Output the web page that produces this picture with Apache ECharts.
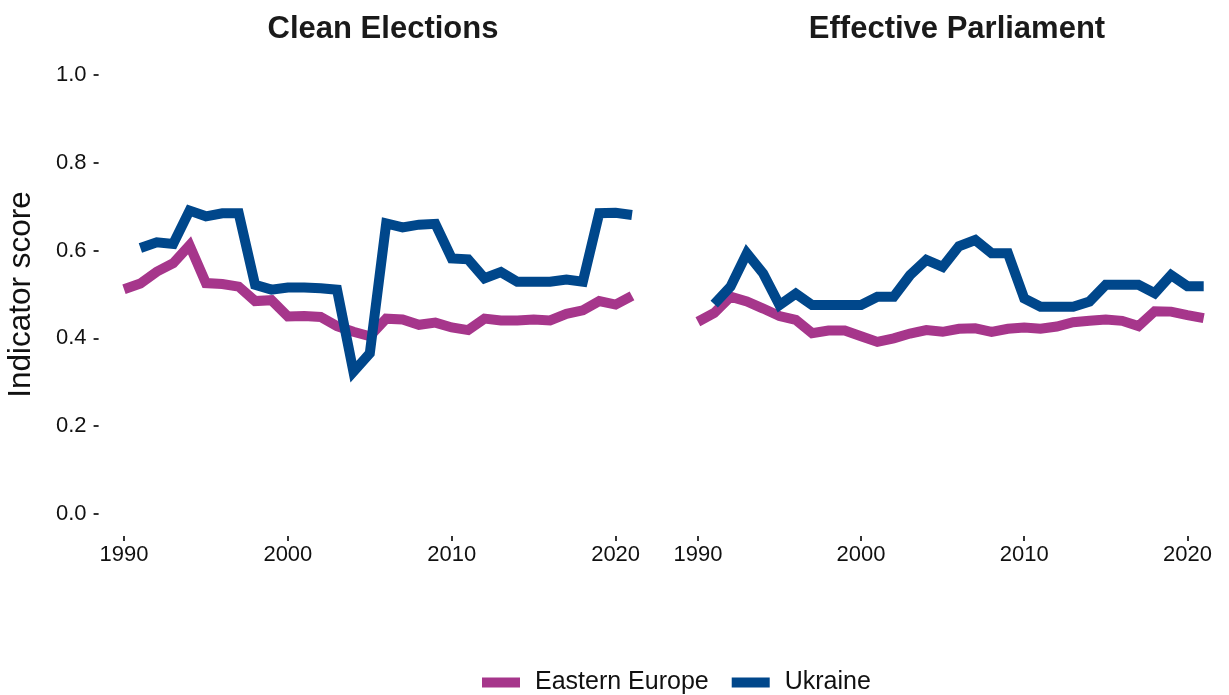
<!DOCTYPE html>
<html>
<head>
<meta charset="utf-8">
<script src="https://cdn.jsdelivr.net/npm/echarts@6/dist/echarts.min.js"></script>
<style>
html,body{margin:0;padding:0;background:#fff;}
#chart{width:1229px;height:695px;}
</style>
</head>
<body>
<div id="chart"></div>
<script>
const years = [1990,1991,1992,1993,1994,1995,1996,1997,1998,1999,2000,2001,2002,2003,2004,2005,2006,2007,2008,2009,2010,2011,2012,2013,2014,2015,2016,2017,2018,2019,2020,2021];
const panelTitles = ["Clean Elections", "Effective Parliament"];
const seriesNames = ["Eastern Europe", "Ukraine"];
const yTicks = [0, 0.2, 0.4, 0.6, 0.8, 1.0];
const xTicks = [1990, 2000, 2010, 2020];

// Clean Elections
const cleanEE = [0.512,0.525,0.552,0.571,0.612,0.526,0.524,0.518,0.485,0.487,0.450,0.451,0.449,0.428,0.415,0.405,0.445,0.443,0.431,0.436,0.425,0.419,0.445,0.441,0.441,0.443,0.441,0.456,0.464,0.485,0.477,0.497];
const cleanUA = [null,0.606,0.619,0.615,0.691,0.678,0.685,0.685,0.522,0.511,0.516,0.516,0.514,0.511,0.324,0.366,0.662,0.653,0.659,0.661,0.582,0.580,0.537,0.551,0.529,0.529,0.529,0.534,0.529,0.685,0.686,0.681];
// Effective Parliament
const parlEE = [0.438,0.458,0.495,0.484,0.468,0.451,0.442,0.412,0.418,0.418,0.405,0.392,0.400,0.411,0.419,0.415,0.422,0.423,0.415,0.422,0.425,0.422,0.427,0.437,0.440,0.443,0.440,0.428,0.462,0.461,0.453,0.446];
const parlUA = [null,0.478,0.518,0.594,0.548,0.476,0.502,0.476,0.476,0.476,0.476,0.495,0.495,0.544,0.579,0.563,0.610,0.624,0.594,0.594,0.491,0.472,0.472,0.472,0.484,0.522,0.522,0.522,0.503,0.544,0.519,0.519];

const colors = ["#A6368B", "#00478B"];
const font = "Liberation Sans, Arial, sans-serif";

function pairs(arr){ return years.map((y,i)=>[y, arr[i]]); }

const chart = echarts.init(document.getElementById('chart'), null, {renderer:'canvas'});

const grids = [
  {left: 98.6, top: 53, width: 558.8, height: 483},
  {left: 672.6, top: 53, width: 558.8, height: 483}
];

function xAxis(idx){
  return {
    type:'value', gridIndex: idx, min: 1988.45, max: 2022.55,
    splitLine:{show:false}, axisLine:{show:false, onZero:false},
    axisTick:{show:true, length:5, lineStyle:{color:'#333', width:2}, customValues: xTicks},
    axisLabel:{show:true, fontFamily:font, fontSize:22, color:'#111', margin:8, customValues: xTicks, formatter: v => String(v)},
  };
}
function yAxis(idx){
  return {
    type:'value', gridIndex: idx, min: -0.05, max: 1.05,
    splitLine:{show:false}, axisLine:{show:false, onZero:false},
    axisTick:{show: idx===0, length:5, lineStyle:{color:'#333', width:2}, customValues: yTicks},
    axisLabel:{show: idx===0, fontFamily:font, fontSize:22, color:'#111', margin:12, customValues: yTicks, formatter: v => v.toFixed(1)},
    name: idx===0 ? 'Indicator score' : '',
    nameLocation:'middle', nameGap: 61, nameRotate: 90,
    nameTextStyle:{fontFamily:font, fontSize:31.5, color:'#111'}
  };
}

function lineSeries(name, data, xi, color){
  return {
    name, type:'line', xAxisIndex:xi, yAxisIndex:xi, data: pairs(data),
    showSymbol:false, symbol:'none', connectNulls:false,
    lineStyle:{color, width:10, cap:'butt', join:'miter'},
    itemStyle:{color}, animation:false, silent:true
  };
}

chart.setOption({
  animation:false,
  grid: grids,
  title: panelTitles.map((t,i)=>({
    text: t, left: grids[i].left + grids[i].width/2, top: 9, textAlign:'center',
    textStyle:{fontFamily:font, fontSize:31, fontWeight:'bold', color:'#1a1a1a'}
  })),
  xAxis: [xAxis(0), xAxis(1)],
  yAxis: [yAxis(0), yAxis(1)],
  legend: {
    top: 665, left: 477, itemWidth:38, itemHeight:10, itemGap:23,
    icon:'rect',
    textStyle:{fontFamily:font, fontSize:25, color:'#111', padding:[0,0,0,10]},
    data: seriesNames
  },
  series: [
    lineSeries(seriesNames[0], cleanEE, 0, colors[0]),
    lineSeries(seriesNames[1], cleanUA, 0, colors[1]),
    lineSeries(seriesNames[0], parlEE, 1, colors[0]),
    lineSeries(seriesNames[1], parlUA, 1, colors[1])
  ]
});
</script>
</body>
</html>
